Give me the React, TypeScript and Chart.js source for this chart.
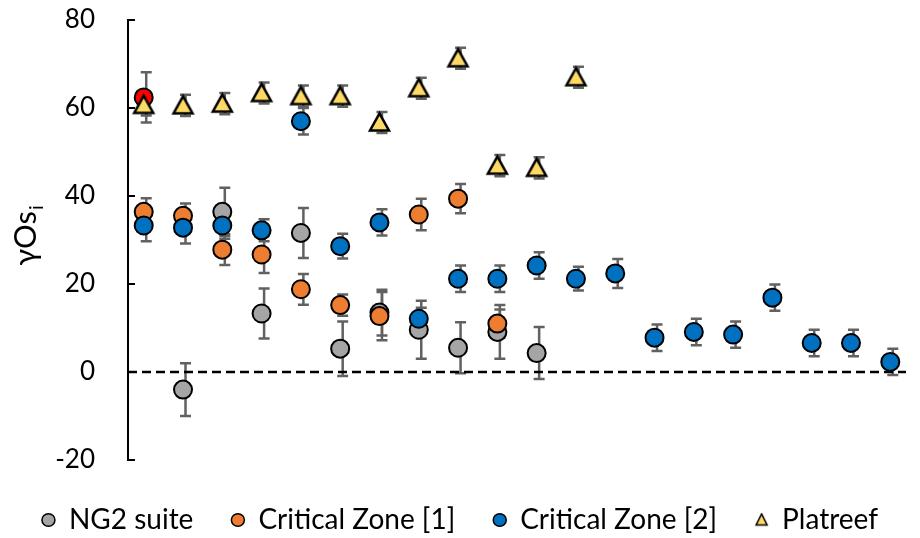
import { useEffect, useRef } from 'react';
import { Chart, registerables } from 'chart.js';

Chart.register(...registerables);

const FONT = 'Lato, "Noto Sans", sans-serif';

// Sample positions (x) and values (y) with error half-widths
const ng2X = [2, 3, 4, 5, 6, 7, 8, 9, 10, 11];
const ng2Y = [-4.0, 36.4, 13.3, 31.6, 5.3, 13.5, 9.6, 5.5, 9.1, 4.3];
const ng2Err = [6.0, 5.5, 5.7, 5.7, 6.2, 5.2, 6.6, 5.8, 6.1, 5.9];

const cz1X = [1, 2, 3, 4, 5, 6, 7, 8, 9, 10];
const cz1Y = [36.4, 35.5, 27.8, 26.7, 18.8, 15.2, 12.7, 35.8, 39.4, 11.0];
const cz1Err = [3.1, 2.8, 3.5, 4.2, 3.5, 2.4, 5.5, 3.6, 3.3, 3.2];

const cz2X = [1, 2, 3, 4, 5, 6, 7, 8, 9, 10, 11, 12, 13, 14, 15, 16, 17, 18, 19, 20];
const cz2Y = [33.3, 32.8, 33.3, 32.2, 57.0, 28.6, 34.0, 12.1, 21.2, 21.2, 24.2, 21.2, 22.4, 7.8, 9.1, 8.5, 16.9, 6.6, 6.6, 2.3];
const cz2Err = [3.6, 3.6, 3.0, 2.5, 3.0, 2.8, 3.0, 2.5, 3.0, 3.0, 3.0, 2.7, 3.3, 3.0, 3.0, 3.0, 3.0, 3.0, 3.0, 3.0];

const platX = [1, 2, 3, 4, 5, 6, 7, 8, 9, 10, 11, 12];
const platY = [60.7, 60.6, 61.0, 63.4, 62.7, 62.7, 56.7, 64.5, 71.3, 46.9, 46.4, 67.0];
const platErr = [2.4, 2.4, 2.4, 2.4, 2.4, 2.4, 2.4, 2.4, 2.4, 2.4, 2.4, 2.4];

const redX = [1];
const redY = [62.4];
const redErr = [5.7];

const seriesNames = ['NG2 suite', 'Critical Zone [1]', 'Critical Zone [2]', 'Platreef'];
const yTicks = [-20, 0, 20, 40, 60, 80];
const yMin = -20;
const yMax = 80;
const xMin = 0.6;
const xMax = 20.4;
const refLineY = 0;

const toPts = (xs: number[], ys: number[]) => xs.map((x, i) => ({ x, y: ys[i] }));

function makeTriangle(w: number, h: number, lw: number, pad: number) {
  const c = document.createElement('canvas');
  c.width = Math.ceil(w + 2 * pad);
  c.height = Math.ceil(h + 2 * pad);
  const ctx = c.getContext('2d')!;
  const cx = c.width / 2;
  const top = (c.height - h) / 2 - 0.6;
  ctx.beginPath();
  ctx.moveTo(cx, top);
  ctx.lineTo(cx + w / 2, top + h);
  ctx.lineTo(cx - w / 2, top + h);
  ctx.closePath();
  ctx.fillStyle = '#FFD966';
  ctx.fill();
  ctx.lineWidth = lw;
  ctx.lineJoin = 'miter';
  ctx.strokeStyle = '#000';
  ctx.stroke();
  return c;
}

const errorBarsPlugin = {
  id: 'errorBars',
  beforeDatasetsDraw(chart: any) {
    const ctx = chart.ctx;
    const ys = chart.scales.y;
    ctx.save();
    ctx.strokeStyle = '#616161';
    ctx.lineWidth = 2.5;
    chart.data.datasets.forEach((ds: any, i: number) => {
      if (!ds.errors) return;
      const meta = chart.getDatasetMeta(i);
      meta.data.forEach((pt: any, j: number) => {
        const v = ds.data[j].y;
        const e = ds.errors[j];
        const x = pt.x + 2.5;
        const y1 = ys.getPixelForValue(v + e);
        const y2 = ys.getPixelForValue(v - e);
        ctx.beginPath();
        ctx.moveTo(x, y1);
        ctx.lineTo(x, y2);
        ctx.moveTo(x - 5.5, y1);
        ctx.lineTo(x + 5.5, y1);
        ctx.moveTo(x - 5.5, y2);
        ctx.lineTo(x + 5.5, y2);
        ctx.stroke();
      });
    });
    ctx.restore();
  },
};

const innerTicksPlugin = {
  id: 'innerTicks',
  afterDraw(chart: any) {
    const ctx = chart.ctx;
    const ys = chart.scales.y;
    const left = chart.chartArea.left;
    ctx.save();
    ctx.strokeStyle = '#000';
    ctx.lineWidth = 2;
    ys.ticks.forEach((t: any) => {
      const y = Math.round(ys.getPixelForValue(t.value));
      ctx.beginPath();
      ctx.moveTo(left - 1, y);
      ctx.lineTo(left + 7, y);
      ctx.stroke();
    });
    ctx.restore();
  },
};

const yTitlePlugin = {
  id: 'yTitle',
  afterDraw(chart: any) {
    const ctx = chart.ctx;
    const ca = chart.chartArea;
    const main = 'γOs';
    const sub = 'i';
    ctx.save();
    ctx.translate(36, (ca.top + ca.bottom) / 2 - 4);
    ctx.rotate(-Math.PI / 2);
    ctx.fillStyle = '#000';
    ctx.textBaseline = 'alphabetic';
    ctx.font = `31px ${FONT}`;
    const wMain = ctx.measureText(main).width;
    ctx.font = `20px ${FONT}`;
    const wSub = ctx.measureText(sub).width;
    const start = -(wMain + wSub) / 2;
    ctx.font = `31px ${FONT}`;
    ctx.fillText(main, start, 0);
    ctx.font = `20px ${FONT}`;
    ctx.fillText(sub, start + wMain + 1, 7);
    ctx.restore();
  },
};

export default function App() {
  const ref = useRef<HTMLCanvasElement | null>(null);

  useEffect(() => {
    if (!ref.current) return;
    const bigTri = makeTriangle(19, 17, 2.5, 4);
    const smallTri = makeTriangle(11, 11, 1.5, 2);

    const chart = new Chart(ref.current, {
      type: 'scatter',
      data: {
        datasets: [
          {
            label: seriesNames[0],
            data: toPts(ng2X, ng2Y),
            errors: ng2Err,
            backgroundColor: '#A5A5A5',
            borderColor: '#000',
            borderWidth: 2,
            pointRadius: 9,
            order: 4,
          } as any,
          {
            label: seriesNames[1],
            data: toPts(cz1X, cz1Y),
            errors: cz1Err,
            backgroundColor: '#ED7D31',
            borderColor: '#000',
            borderWidth: 2,
            pointRadius: 9,
            order: 3,
          } as any,
          {
            label: seriesNames[2],
            data: toPts(cz2X, cz2Y),
            errors: cz2Err,
            backgroundColor: '#0070C0',
            borderColor: '#000',
            borderWidth: 2,
            pointRadius: 9,
            order: 2,
          } as any,
          {
            label: seriesNames[3],
            data: toPts(platX, platY),
            errors: platErr,
            backgroundColor: '#FFD966',
            borderColor: '#000',
            borderWidth: 2,
            pointStyle: bigTri,
            pointRadius: 12,
            order: 0,
          } as any,
          {
            label: 'red',
            data: toPts(redX, redY),
            errors: redErr,
            backgroundColor: '#FF0000',
            borderColor: '#000',
            borderWidth: 2,
            pointRadius: 9,
            order: 1,
          } as any,
          {
            type: 'line',
            label: 'zero',
            data: [
              { x: xMin, y: refLineY },
              { x: xMax, y: refLineY },
            ],
            borderColor: '#000',
            borderWidth: 2.5,
            borderDash: [9, 5],
            pointRadius: 0,
            fill: false,
            order: 5,
          } as any,
        ],
      },
      options: {
        animation: false,
        responsive: true,
        maintainAspectRatio: false,
        layout: { padding: { top: 20, right: 0, bottom: -6, left: 0 } },
        scales: {
          x: {
            type: 'linear',
            min: xMin,
            max: xMax,
            display: true,
            ticks: { display: false },
            grid: { display: false, drawTicks: false },
            border: { display: false },
            afterFit: (s: any) => {
              s.height = 8;
            },
          },
          y: {
            type: 'linear',
            min: yMin,
            max: yMax,
            afterBuildTicks: (s: any) => {
              s.ticks = yTicks.map((v) => ({ value: v }));
            },
            ticks: {
              font: { family: FONT, size: 26 },
              color: '#000',
              padding: 33,
            },
            grid: { display: false, drawTicks: false },
            border: { display: true, color: '#000', width: 2 },
            afterFit: (s: any) => {
              s.width = 128;
              s.paddingTop = 14;
              s.paddingBottom = 14;
            },
          },
        },
        plugins: {
          tooltip: { enabled: false },
          legend: {
            position: 'bottom',
            align: 'center',
            labels: {
              font: { family: FONT, size: 28 },
              color: '#000',
              usePointStyle: true,
              pointStyleWidth: 13,
              boxHeight: 9,
              padding: 38,
              sort: (a: any, b: any) => a.datasetIndex - b.datasetIndex,
              generateLabels: (c: any) => {
                const items = Chart.defaults.plugins.legend.labels.generateLabels(c);
                return items
                  .filter((it: any) => seriesNames.includes(it.text))
                  .map((it: any) => ({
                    ...it,
                    lineWidth: 1.5,
                    pointStyle: it.text === seriesNames[3] ? smallTri : 'circle',
                  }));
              },
            },
          },
        },
      } as any,
      plugins: [errorBarsPlugin, innerTicksPlugin, yTitlePlugin],
    });
    return () => chart.destroy();
  }, []);

  return (
    <div style={{ position: 'absolute', left: 0, top: 0, width: 920, height: 538 }}>
      <canvas ref={ref} />
    </div>
  );
}
